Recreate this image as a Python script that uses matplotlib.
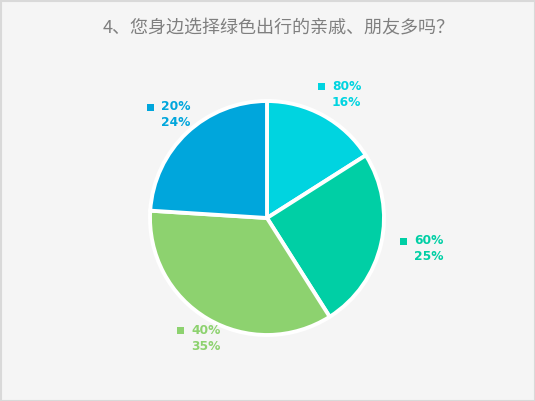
import matplotlib.pyplot as plt
from matplotlib.patches import Rectangle

plt.rcParams["font.family"] = ["Noto Sans CJK SC", "DejaVu Sans"]

title = "4、您身边选择绿色出行的亲戚、朋友多吗？"
categories = ["80%", "60%", "40%", "20%"]
shares = [16, 25, 35, 24]
colors = ["#00D4E0", "#00CFA5", "#8DD26F", "#00A6DC"]
# label anchor (pixel coords from top-left)
label_pos = [(321, 86), (403, 241), (180, 330), (150, 107)]

W, H = 535, 401
fig = plt.figure(figsize=(W / 100, H / 100), dpi=100, facecolor="#F5F5F5")
ax = fig.add_axes([0, 0, 1, 1])

cx, cy, r = 267, H - 218, 117
ax.pie(
    shares,
    colors=colors,
    startangle=90,
    counterclock=False,
    center=(cx, cy),
    radius=r,
    wedgeprops={"edgecolor": "white", "linewidth": 2.8},
    frame=True,
)
ax.set_xlim(0, W)
ax.set_ylim(0, H)
ax.set_aspect("equal")
ax.axis("off")

for cat, val, col, (lx, ly) in zip(categories, shares, colors, label_pos):
    y = H - ly
    ax.add_patch(Rectangle((lx - 3.5, y - 3.5), 7, 7, color=col, lw=0))
    ax.text(lx + 11, y, cat, color=col, fontsize=8.8, fontweight="bold",
            va="center", ha="left", family=["DejaVu Sans"])
    ax.text(lx + 11, y - 16, f"{val}%", color=col, fontsize=8.8, fontweight="bold",
            va="center", ha="left", family=["DejaVu Sans"])

fig.text(279 / W, 1 - 28 / H, title, color="#7F7F7F", fontsize=13,
         ha="center", va="center")

fig.add_artist(Rectangle((0.5 / W, 0.5 / H), 1 - 1 / W, 1 - 1 / H,
                         transform=fig.transFigure, fill=False,
                         edgecolor="#D9D9D9", lw=1.5))

fig.savefig("out.png", dpi=100, facecolor=fig.get_facecolor())
